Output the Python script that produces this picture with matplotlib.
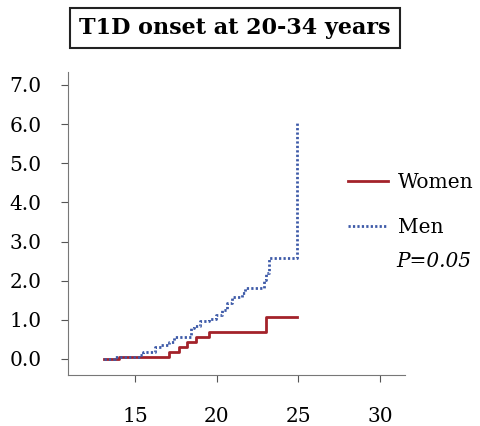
import numpy as np
import matplotlib.pyplot as plt

# step curves (age in years, cumulative incidence)
women_x = [13.1, 14.05, 17.1, 17.7, 18.2, 18.7, 19.5, 23.0, 24.9]
women_y = [0.0, 0.06, 0.17, 0.30, 0.43, 0.55, 0.70, 1.08, 1.08]

men_x = [13.1, 13.8, 15.3, 15.5, 16.2, 16.6, 17.1, 17.4, 18.4, 18.6, 19.0, 19.5,
         19.95, 20.35, 20.65, 20.95, 21.55, 21.7, 22.9, 23.0, 23.2, 24.9]
men_y = [0.0, 0.05, 0.10, 0.19, 0.30, 0.36, 0.44, 0.57, 0.78, 0.84, 0.96, 1.02,
         1.13, 1.25, 1.42, 1.59, 1.68, 1.81, 2.02, 2.19, 2.58, 6.07]

x_ticks = [15, 20, 25, 30]
y_ticks = [0.0, 1.0, 2.0, 3.0, 4.0, 5.0, 6.0, 7.0]

plt.rcParams['font.family'] = ['DejaVu Serif']

fig = plt.figure(figsize=(4.81, 4.26), dpi=100)
ax = fig.add_axes([0.1414, 0.1197, 0.70, 0.7113])

ax.step(women_x, women_y, where='post', color="#a3222a", lw=2.0, label="Women")
ax.step(men_x, men_y, where='post', color="#3d5aa8", lw=2.0,
        linestyle=(0, (0.8, 0.8)), label="Men")

ax.set_xlim(10.9, 31.5)
ax.set_ylim(-0.41, 7.33)
ax.set_xticks(x_ticks)
ax.set_yticks(y_ticks)
ax.set_yticklabels(["%.1f" % v for v in y_ticks])
ax.tick_params(axis='both', direction='out', length=5, color="#555555",
               labelsize=14.5)
ax.tick_params(axis='x', pad=18)
ax.tick_params(axis='y', pad=14)

for s in ['top', 'right']:
    ax.spines[s].set_visible(False)
for s in ['left', 'bottom']:
    ax.spines[s].set_color("#777777")

fig.legend(loc='upper left', bbox_to_anchor=(0.7235, 0.594), frameon=False,
           fontsize=14.5, handlelength=2.0, handletextpad=0.5, labelspacing=1.3,
           borderaxespad=0, borderpad=0)
fig.text(0.823, 0.385, "P=0.05", fontsize=14.5, style='italic', va='center')

fig.text(0.488, 0.934, "T1D onset at 20-34 years", fontsize=16, fontweight='bold',
         ha='center', va='center',
         bbox=dict(boxstyle='square,pad=0.42', fc='white', ec='#222222', lw=1.5))

plt.savefig("out.png", dpi=100)
